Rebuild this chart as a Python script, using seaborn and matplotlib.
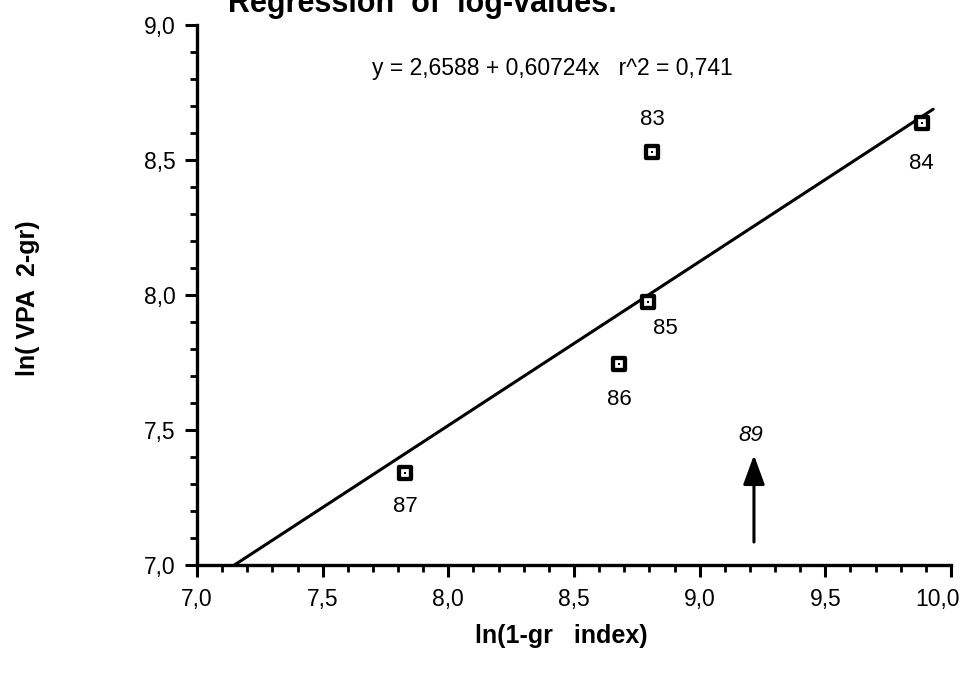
import matplotlib
matplotlib.use("Agg")
import matplotlib.pyplot as plt
import matplotlib.transforms as mtransforms
from matplotlib.ticker import MultipleLocator, FixedLocator
import pandas as pd
import seaborn as sns

# Yearly observations (log scale)
years = ["83", "84", "85", "86", "87"]
ln_index = [8.81, 9.884, 8.796, 8.680, 7.828]
ln_vpa = [8.531, 8.638, 7.973, 7.744, 7.342]

# Fitted regression  y = a + b x
intercept = 2.6588
slope = 0.60724
r_squared = 0.741
fit_x = [7.143, 9.929]

# 1989 index value (only x known)
x89 = 9.216
arrow_y = [7.085, 7.407]

x_ticks = [7.0, 7.5, 8.0, 8.5, 9.0, 9.5, 10.0]
y_ticks = [7.0, 7.5, 8.0, 8.5, 9.0]


def comma(v, nd):
    return f"{v:.{nd}f}".replace(".", ",")


sns.set_theme(style="white")
plt.rcParams["font.family"] = ["Liberation Sans", "DejaVu Sans"]
plt.rcParams.update({"text.color": "black", "axes.labelcolor": "black",
                     "xtick.color": "black", "ytick.color": "black",
                     "xtick.labelcolor": "black", "ytick.labelcolor": "black"})

df = pd.DataFrame({"x": ln_index, "y": ln_vpa, "year": years})
fit = pd.DataFrame({"x": fit_x})
fit["y"] = intercept + slope * fit["x"]

fig = plt.figure(figsize=(9.61, 6.75), dpi=100)
ax = fig.add_axes([0.205, 0.163, 0.7846, 0.800])

sns.lineplot(data=fit, x="x", y="y", ax=ax, color="black", linewidth=2.2)
sns.scatterplot(data=df, x="x", y="y", ax=ax, marker="s", s=66,
                facecolor="white", edgecolor="black", linewidth=3.1, zorder=3)
sns.scatterplot(data=df, x="x", y="y", ax=ax, marker="s", s=3.5,
                color="black", linewidth=0, zorder=4)

# Year labels
offsets = {"83": (0, 32), "84": (0, -41), "85": (17, -26),
           "86": (0, -35), "87": (0, -34)}
for yr, xv, yv in zip(years, ln_index, ln_vpa):
    dx, dy = offsets[yr]
    ax.annotate(yr, (xv, yv), xytext=(dx, dy), textcoords="offset pixels",
                ha="center", va="center", fontsize=16, color="black")

# Arrow for 1989
ax.annotate("", xy=(x89, arrow_y[1]), xytext=(x89, arrow_y[0]),
            arrowprops=dict(arrowstyle="-|>,head_length=1.5,head_width=0.55",
                            color="black", lw=2.2, shrinkA=0, shrinkB=0))
ax.annotate("89", (x89, arrow_y[1]), xytext=(-3, 20), textcoords="offset pixels",
            ha="center", va="center", fontsize=16, style="italic", color="black")

equation = (f"y = {comma(intercept, 4)} + {comma(slope, 5)}x   "
            f"r^2 = {comma(r_squared, 3)}")
fig.text(372 / 961, 1 - 68 / 675, equation, ha="left", va="center",
         fontsize=16.5, color="black")

ax.set_xlim(7.0, 10.0)
ax.set_ylim(7.0, 9.0)
ax.xaxis.set_major_locator(FixedLocator(x_ticks))
ax.yaxis.set_major_locator(FixedLocator(y_ticks))
ax.xaxis.set_minor_locator(MultipleLocator(0.1))
ax.yaxis.set_minor_locator(MultipleLocator(0.1))
ax.set_xticklabels([comma(v, 1) for v in x_ticks])
ax.set_yticklabels([comma(v, 1) for v in y_ticks])
ax.tick_params(axis="both", which="major", direction="out", length=8.6, width=2.2,
               labelsize=16.5, color="black", labelcolor="black",
               bottom=True, left=True)
ax.tick_params(axis="x", which="major", pad=8)
ax.tick_params(axis="y", which="major", pad=7)
ax.tick_params(axis="both", which="minor", direction="out", length=5, width=2.0,
               color="black", bottom=True, left=True)

# keep the last x label inside the figure
last = ax.get_xticklabels()[-1]
last.set_transform(last.get_transform() +
                   mtransforms.ScaledTranslation(-14 / 100, 0, fig.dpi_scale_trans))

for side in ["top", "right"]:
    ax.spines[side].set_visible(False)
for side in ["left", "bottom"]:
    ax.spines[side].set_color("black")
    ax.spines[side].set_linewidth(2.4)

ax.set_xlabel("")
ax.set_ylabel("")
fig.text(561 / 961, 1 - 636 / 675, "ln(1-gr   index)", ha="center", va="center",
         fontsize=18, fontweight="bold", color="black")
fig.text(28 / 961, 1 - 298 / 675, "ln( VPA  2-gr)", ha="center", va="center",
         fontsize=18, fontweight="bold", rotation=90, color="black")
fig.text(228 / 961, 1 - 12 / 675, "Regression  of  log-values.", ha="left",
         va="baseline", fontsize=22, fontweight="bold", color="black")

fig.savefig("out.png", dpi=100)
